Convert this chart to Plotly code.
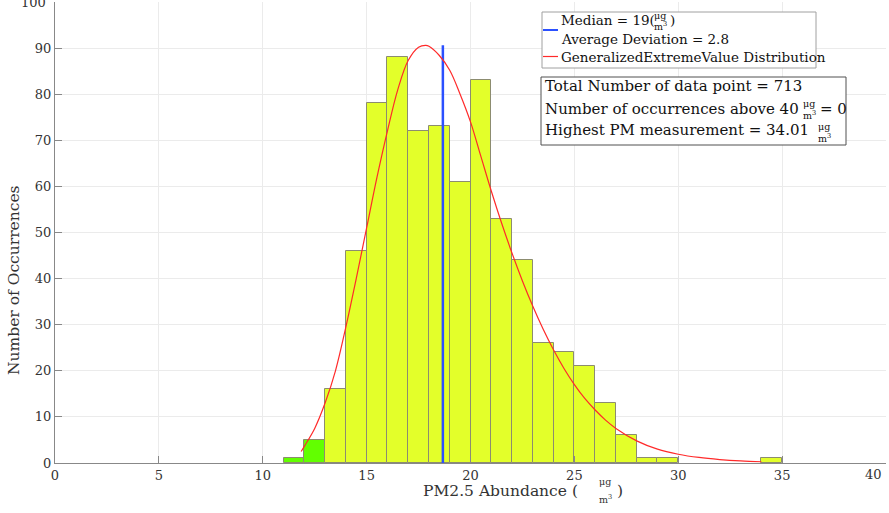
import plotly.graph_objects as go

# ---------------- data ----------------
bin_left = [11, 12, 13, 14, 15, 16, 17, 18, 19, 20, 21, 22, 23, 24, 25, 26, 27, 28, 29, 34]
counts = [1, 5, 16, 46, 78, 88, 72, 73, 61, 83, 53, 44, 26, 24, 21, 13, 6, 1, 1, 1]
bin_width = 1.0

fit_x = [11.85, 12.0, 12.5, 13.0, 13.5, 14.0, 14.5, 15.0, 15.5, 16.0, 16.5, 17.0, 17.5, 17.85,
         18.0, 18.5, 19.0, 19.5, 20.0, 20.5, 21.0, 21.5, 22.0, 22.5, 23.0, 23.5, 24.0, 24.5,
         25.0, 25.5, 26.0, 26.5, 27.0, 28.0, 29.0, 30.0, 31.0, 32.0, 33.0, 34.0]
fit_y = [2.5, 3.6, 7.5, 13.0, 20.0, 29.5, 40.0, 51.0, 62.0, 72.0, 81.0, 87.3, 90.2, 90.6,
         90.4, 88.4, 85.2, 80.0, 74.0, 66.5, 59.0, 52.0, 45.5, 39.5, 34.0, 29.0, 24.5, 20.5,
         17.0, 14.0, 11.5, 9.3, 7.5, 4.8, 3.0, 1.9, 1.2, 0.75, 0.45, 0.27]

median_pos = 18.67
median_top = 90.6

x_ticks = [0, 5, 10, 15, 20, 25, 30, 35, 40]
y_ticks = [0, 10, 20, 30, 40, 50, 60, 70, 80, 90, 100]

total_points = 713
above_40 = 0
highest = 34.01
median_label = 19
avg_dev = 2.8

# ---------------- styles ----------------
FONT = "DejaVu Serif"
YELLOW = "#e3ff2a"
GREEN = "#62ff00"
EDGE = "#8c8c70"
TXT = "#333333"

bar_x = [b + bin_width / 2 for b in bin_left]
bar_colors = [GREEN if b < 13 else YELLOW for b in bin_left]

fig = go.Figure()
fig.add_trace(go.Bar(x=bar_x, y=counts, width=bin_width,
                     marker=dict(color=bar_colors, line=dict(color=EDGE, width=1)),
                     showlegend=False, hoverinfo="skip"))
fig.add_trace(go.Scatter(x=[median_pos, median_pos], y=[0, median_top], mode="lines",
                         line=dict(color="#2b50ff", width=2.5), showlegend=False))
fig.add_trace(go.Scatter(x=fit_x, y=fit_y, mode="lines", line_shape="spline",
                         line=dict(color="#ff2a2a", width=1.2), showlegend=False))

L, R, T, B = 55, 886, 2, 463
def px(x):
    return (x - L) / (R - L)
def py(y):
    return (B - y) / (B - T)

ann = []
shapes = []

def text(x, y, s, size, anchor="left", color="#111111", angle=0):
    ann.append(dict(x=px(x), y=py(y), xref="paper", yref="paper", text=s, showarrow=False,
                    xanchor=anchor, yanchor="middle", textangle=angle,
                    font=dict(family=FONT, size=size, color=color)))

def frac(xc, ytop, ybot, size=10, color="#111111"):
    text(xc, ytop, "μg", size, anchor="center", color=color)
    text(xc, ybot, "m<sup>3</sup>", size, anchor="center", color=color)

def hline(x0, x1, y, color, width):
    shapes.append(dict(type="line", xref="paper", yref="paper", x0=px(x0), x1=px(x1),
                       y0=py(y), y1=py(y), line=dict(color=color, width=width), layer="above"))

# legend box
shapes.append(dict(type="rect", xref="paper", yref="paper", x0=px(542), x1=px(816),
                   y0=py(68), y1=py(12), line=dict(color="#a0a0a0", width=1),
                   fillcolor="white", layer="above"))
hline(543, 558, 30, "#2b50ff", 2)
text(559, 20, f"Median = {median_label}(", 13.5)
frac(660, 15, 26, 9.5)
text(668, 20, ")", 13.5)
text(559, 38.5, f"Average Deviation = {avg_dev}", 13.5)
hline(543, 558, 56.5, "#ff2a2a", 1.2)
text(559, 56.5, "GeneralizedExtremeValue Distribution", 13.5)

# info box
shapes.append(dict(type="rect", xref="paper", yref="paper", x0=px(541), x1=px(846),
                   y0=py(145), y1=py(77), line=dict(color="#505050", width=1),
                   fillcolor="white", layer="above"))
text(543, 86, f"Total Number of data point = {total_points}", 15)
text(543, 108.5, "Number of occurrences above 40", 15)
frac(809, 104, 115, 9.5)
text(818, 108.5, f"= {above_40}", 15)
text(543, 130, f"Highest PM measurement = {highest:.2f}", 15)
frac(824, 126, 138, 9.5)

# axis titles
text(14, 280, "Number of Occurrences", 15.5, anchor="center", color=TXT, angle=-90)
text(421, 491, "PM2.5 Abundance (", 15.5, color=TXT)
frac(605, 481, 499, 9.5, color=TXT)
text(615, 491, ")", 15.5, color=TXT)

# edge tick labels that Plotly would hide
text(48, 3, "100", 13, anchor="right", color=TXT)
text(873, 474, "40", 13, anchor="center", color=TXT)

fig.update_layout(
    width=889, height=513,
    margin=dict(l=L, r=889 - R, t=T, b=513 - B),
    plot_bgcolor="white", paper_bgcolor="white",
    bargap=0, annotations=ann, shapes=shapes, showlegend=False,
    font=dict(family=FONT, color=TXT),
)
fig.update_xaxes(range=[0, 40], tickvals=x_ticks, ticks="inside", ticklen=7, tickcolor="#888888",
                 showline=True, linecolor="#888888", linewidth=1, showgrid=True, gridcolor="#ebebeb",
                 zeroline=False, tickfont=dict(family=FONT, size=13, color=TXT))
fig.update_yaxes(range=[0, 100], tickvals=y_ticks, ticks="inside", ticklen=7, tickcolor="#888888",
                 showline=True, linecolor="#888888", linewidth=1, showgrid=True, gridcolor="#ebebeb",
                 zeroline=False, tickfont=dict(family=FONT, size=13, color=TXT))

fig.write_html("out.html")
